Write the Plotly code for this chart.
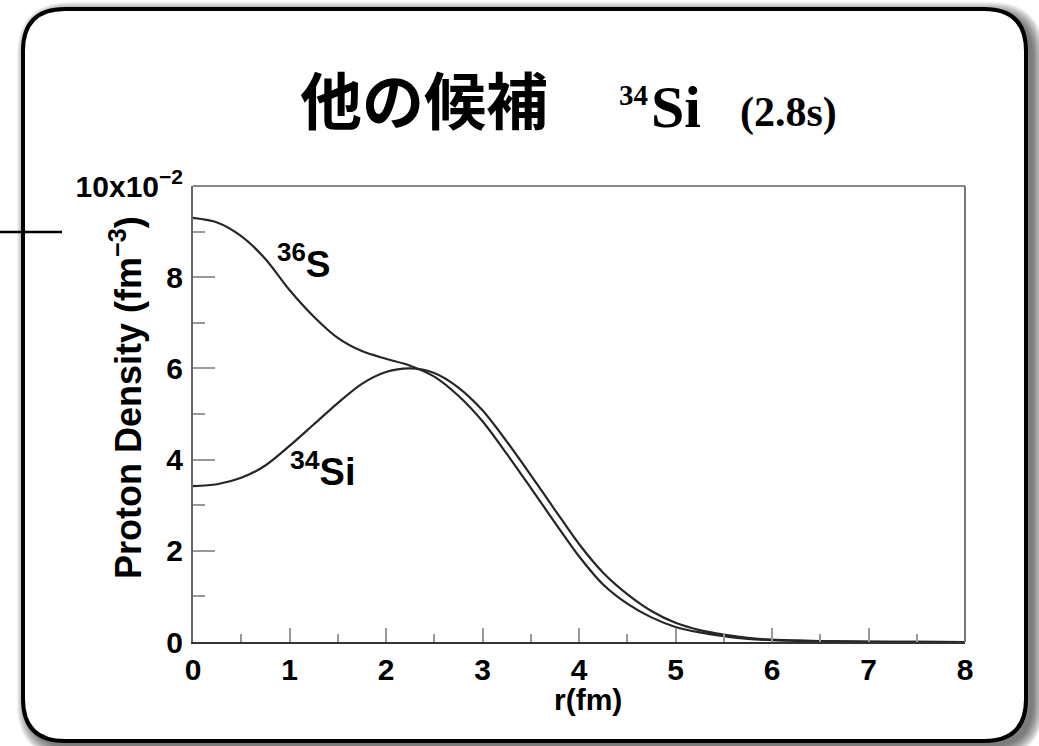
import plotly.graph_objects as go

# Proton density profiles (units of 10^-2 fm^-3) versus radius r (fm)
r_fm = [0.0, 0.25, 0.5, 0.75, 1.0, 1.25, 1.5, 1.75, 2.0, 2.25, 2.5, 2.75, 3.0, 3.25,
        3.5, 3.75, 4.0, 4.25, 4.5, 4.75, 5.0, 5.25, 5.5, 5.75, 6.0, 6.5, 7.0, 7.5, 8.0]
rho_s36 = [9.30, 9.20, 8.90, 8.40, 7.72, 7.14, 6.67, 6.38, 6.21, 6.06, 5.82, 5.40, 4.84, 4.13,
           3.38, 2.62, 1.88, 1.26, 0.84, 0.54, 0.33, 0.21, 0.13, 0.07, 0.04, 0.015, 0.005, 0.002, 0.0]
rho_si34 = [3.42, 3.46, 3.60, 3.87, 4.30, 4.77, 5.24, 5.66, 5.92, 6.00, 5.90, 5.58, 5.08, 4.40,
            3.66, 2.90, 2.15, 1.52, 1.05, 0.68, 0.42, 0.26, 0.16, 0.09, 0.05, 0.02, 0.007, 0.002, 0.0]

y_tickvals = [0, 2, 4, 6, 8, 10]
y_ticktext = ["0", "2", "4", "6", "8", "10x10<sup>−2</sup>"]
x_tickvals = [0, 1, 2, 3, 4, 5, 6, 7, 8]

W, H = 1039, 746
L, T, R, B = 193, 186, 965, 642   # plot area in pixels


def px(x):
    return (x - L) / (R - L)


def py(y):
    return (B - y) / (B - T)


def rounded_path(x0, y0, x1, y1, rad):
    pts = [
        f"M {px(x0 + rad)},{py(y0)}",
        f"L {px(x1 - rad)},{py(y0)}",
        f"Q {px(x1)},{py(y0)} {px(x1)},{py(y0 + rad)}",
        f"L {px(x1)},{py(y1 - rad)}",
        f"Q {px(x1)},{py(y1)} {px(x1 - rad)},{py(y1)}",
        f"L {px(x0 + rad)},{py(y1)}",
        f"Q {px(x0)},{py(y1)} {px(x0)},{py(y1 - rad)}",
        f"L {px(x0)},{py(y0 + rad)}",
        f"Q {px(x0)},{py(y0)} {px(x0 + rad)},{py(y0)} Z",
    ]
    return " ".join(pts)


shapes = []
# soft drop shadow behind the card
for k in range(12):
    grow = 12 - k
    shapes.append(dict(
        type="path", xref="paper", yref="paper", layer="below",
        path=rounded_path(23 + 6 - grow, 9 + 5 - grow, 1026 + 6 + grow, 741 + 5 + grow, 42 + grow),
        fillcolor="rgba(0,0,0,0.055)", line=dict(width=0),
    ))
# white card with black rounded border
shapes.append(dict(
    type="path", xref="paper", yref="paper", layer="below",
    path=rounded_path(23, 9, 1026, 741, 42),
    fillcolor="white", line=dict(color="black", width=4),
))
# stray rule on the left edge
shapes.append(dict(
    type="line", xref="paper", yref="paper", layer="above",
    x0=px(0), x1=px(62), y0=py(232), y1=py(232),
    line=dict(color="black", width=2.5),
))
# lighter top and right frame edges
shapes.append(dict(type="line", xref="paper", yref="paper", layer="above",
                   x0=0, x1=1, y0=1, y1=1, line=dict(color="#888888", width=2)))
shapes.append(dict(type="line", xref="paper", yref="paper", layer="above",
                   x0=1, x1=1, y0=0, y1=1, line=dict(color="#777777", width=2)))

fig = go.Figure()
line_style = dict(color="#262626", width=2.2, shape="spline", smoothing=0.8)
fig.add_trace(go.Scatter(x=r_fm, y=rho_s36, mode="lines", line=line_style, name="36S",
                         showlegend=False, hoverinfo="skip"))
fig.add_trace(go.Scatter(x=r_fm, y=rho_si34, mode="lines", line=line_style, name="34Si",
                         showlegend=False, hoverinfo="skip"))

sans = "Liberation Sans, Arial, sans-serif"
serif = "Liberation Serif, Times New Roman, serif"

annotations = [
    dict(text="<b>他の候補</b>", x=px(424), y=py(98), xanchor="center", yanchor="middle",
         font=dict(family="Noto Sans CJK JP", size=62, color="black")),
    dict(text="<b>34</b>", x=px(650), y=py(95), xanchor="right", yanchor="middle",
         font=dict(family=serif, size=29, color="black")),
    dict(text="<b>Si</b>", x=px(649), y=py(107), xanchor="left", yanchor="middle",
         font=dict(family=serif, size=60, color="black")),
    dict(text="<b>(2.8s)</b>", x=px(738), y=py(112), xanchor="left", yanchor="middle",
         font=dict(family=serif, size=42, color="black")),
    dict(text="<b><sup>36</sup>S</b>", x=px(275), y=py(261), xanchor="left", yanchor="middle",
         font=dict(family=sans, size=37, color="black")),
    dict(text="<b><sup>34</sup>Si</b>", x=px(288), y=py(469), xanchor="left", yanchor="middle",
         font=dict(family=sans, size=38, color="black")),
    dict(text="<b>Proton Density (fm<sup>−3</sup>)</b>", x=px(126), y=py(398), textangle=-90,
         xanchor="center", yanchor="middle", font=dict(family=sans, size=36, color="black")),
    dict(text="<b>r(fm)</b>", x=px(588), y=py(699), xanchor="center", yanchor="middle",
         font=dict(family=sans, size=30, color="black")),
]
for a in annotations:
    a.update(xref="paper", yref="paper", showarrow=False)

fig.update_layout(
    width=W, height=H, autosize=False,
    margin=dict(l=L, t=T, r=W - R, b=H - B, pad=0),
    paper_bgcolor="white", plot_bgcolor="rgba(0,0,0,0)",
    shapes=shapes, annotations=annotations,
    xaxis=dict(
        range=[0, 8], tickvals=x_tickvals, ticks="inside", ticklen=14, tickwidth=1.5,
        tickcolor="#999999", showline=True, linecolor="#333333", linewidth=2, mirror=False,
        showgrid=False, zeroline=False, ticklabelstandoff=0,
        tickfont=dict(family=sans, size=30, color="black", weight="bold"),
        minor=dict(dtick=0.5, ticks="inside", ticklen=8, tickcolor="#999999", tickwidth=1.5),
    ),
    yaxis=dict(
        range=[0, 10], tickvals=y_tickvals, ticktext=y_ticktext, ticks="inside", ticklen=22,
        tickwidth=1.5, tickcolor="#999999", showline=True, linecolor="#666666", linewidth=2,
        mirror=False, showgrid=False, zeroline=False, ticklabelstandoff=2,
        tickfont=dict(family=sans, size=30, color="black", weight="bold"),
        minor=dict(dtick=1, ticks="inside", ticklen=12, tickcolor="#999999", tickwidth=1.5),
    ),
)

fig.write_html("out.html")
